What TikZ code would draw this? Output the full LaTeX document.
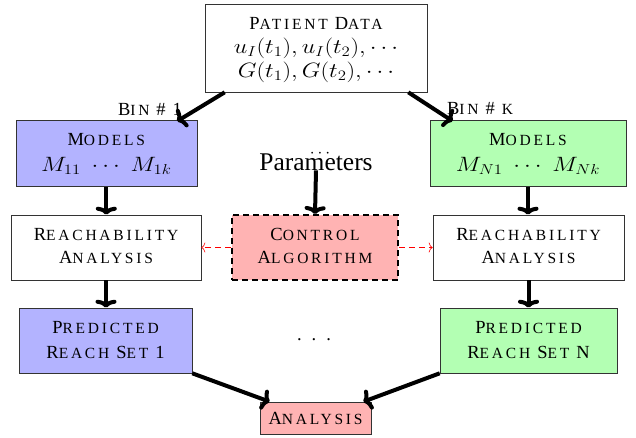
\documentclass[tikz,border=0pt]{standalone}
\usepackage{graphicx}
\usepackage[no-math]{fontspec}
\setmainfont{Liberation Serif}
\newfontfamily\scfam[LetterSpace=18]{Liberation Serif}
\newcommand\sca[1]{{\fontsize{15.5}{23}\scfam #1}}
\newcommand\ws{\hspace{7pt}}
\newcommand\mth[1]{\scalebox{1.17}[1]{\fontsize{22.5}{24}\selectfont$#1$}}
\newcommand\tst[1]{\rule{0pt}{#1}}
\newcommand\bst[1]{\rule[-#1]{0pt}{#1}}
\usetikzlibrary{arrows.meta,calc}
\definecolor{bluefill}{RGB}{179,179,255}
\definecolor{greenfill}{RGB}{179,255,179}
\definecolor{redfill}{RGB}{255,179,179}
\begin{document}
\lineskiplimit=-20pt\relax
\begin{tikzpicture}[x=1pt,y=-1pt,
  every node/.style={font=\fontsize{18.5}{23}\selectfont},
  box/.style={draw=black!80, line width=0.6pt, align=center, inner sep=2pt, minimum height=65pt},
  bigarrow/.style={line width=4pt, -{Computer Modern Rightarrow[length=8pt,width=21pt]}},
  redarrow/.style={red, line width=0.6pt, dash pattern=on 6pt off 4pt, -{To[length=4pt,width=10pt]}},
  lbl/.style={inner sep=0pt, anchor=base}
]
\useasboundingbox (0,0) rectangle (636,437);

\node[box, minimum width=222pt, minimum height=88pt,
      font=\fontsize{18.5}{24}\selectfont] (patient) at (316,48)
  {\tst{18pt}P\sca{ATIENT}\ws D\sca{ATA}\\ \mth{u_I(t_1), u_I(t_2), \cdots}\\ \mth{G(t_1), G(t_2), \cdots}\bst{7pt}};

\node[box, fill=bluefill, minimum width=181pt, minimum height=66pt,
      font=\fontsize{18.5}{26}\selectfont] (modelsL) at (106.3,153.5)
  {\tst{16.6pt}M\sca{ODELS}\\ \mth{M_{11}\ \cdots\ M_{1k}}\bst{7pt}};
\node[box, fill=greenfill, minimum width=196pt, minimum height=66pt,
      font=\fontsize{18.5}{26}\selectfont] (modelsR) at (528,153.5)
  {\tst{16.6pt}M\sca{ODELS}\\ \mth{M_{N1}\ \cdots\ M_{Nk}}\bst{7pt}};

\node[lbl] (bin1) at (150,115) {B\sca{IN}\ws\#\ws 1};
\node[lbl] (bink) at (480,114) {B\sca{IN}\ws\#\ws\sca{K}};

\node[inner sep=0pt, anchor=base] (cdots) at (320,157.5) {$\cdots$};
\node[lbl, font=\fontsize{25.5}{30}\selectfont] (param) at (316,170) {Parameters};

\node[box, minimum width=190pt] (reachL) at (106,247.5)
  {\tst{14pt}R\sca{EACHABILITY}\\ A\sca{NALYSIS}\bst{6pt}};
\node[box, fill=redfill, draw=black, line width=1.8pt, dash pattern=on 6pt off 4pt, minimum width=166pt] (control) at (315,247.5)
  {\tst{14pt}C\sca{ONTROL}\\ A\sca{LGORITHM}\bst{6pt}};
\node[box, minimum width=191pt] (reachR) at (528.5,247.5)
  {\tst{14pt}R\sca{EACHABILITY}\\ A\sca{NALYSIS}\bst{6pt}};

\node[box, fill=bluefill, minimum width=173pt,
      font=\fontsize{18.5}{25}\selectfont] (predL) at (105.5,340.5)
  {\tst{16pt}P\sca{REDICTED}\\ R\sca{EACH}\ws S\sca{ET}\ws 1\bst{6pt}};
\node[box, fill=greenfill, minimum width=177pt,
      font=\fontsize{18.5}{25}\selectfont] (predR) at (528.5,340.5)
  {\tst{16pt}P\sca{REDICTED}\\ R\sca{EACH}\ws S\sca{ET}\ws N\bst{6pt}};

\node[inner sep=0pt] (dots) at (314,340) {.\hspace{10pt}.\hspace{10pt}.};

\node[box, fill=redfill, minimum width=111pt, minimum height=32pt] (analysis) at (315.5,418)
  {A\sca{NALYSIS}};

% connectors
\draw[bigarrow] ($(patient.south west)+(20,0)$) -- ($(modelsL.north east)+(-20,1)$);
\draw[bigarrow] ($(patient.south east)+(-19,0)$) -- ($(modelsR.north west)+(23,1)$);
\draw[bigarrow] (modelsL.south) -- (modelsL.south |- reachL.north);
\draw[bigarrow] (modelsR.south) -- (modelsR.south |- reachR.north);
\draw[bigarrow] (param.south) -- (control.north);
\draw[bigarrow] (reachL.south) -- (reachL.south |- predL.north);
\draw[bigarrow] (reachR.south) -- (reachR.south |- predR.north);
\draw[bigarrow] (predL.south east) -- ($(analysis.north west)+(10,0)$);
\draw[bigarrow] (predR.south west) -- ($(analysis.north east)+(-8,0)$);
\draw[redarrow] (control.west) -- (reachL.east);
\draw[redarrow] (control.east) -- (reachR.west);
\end{tikzpicture}
\end{document}
